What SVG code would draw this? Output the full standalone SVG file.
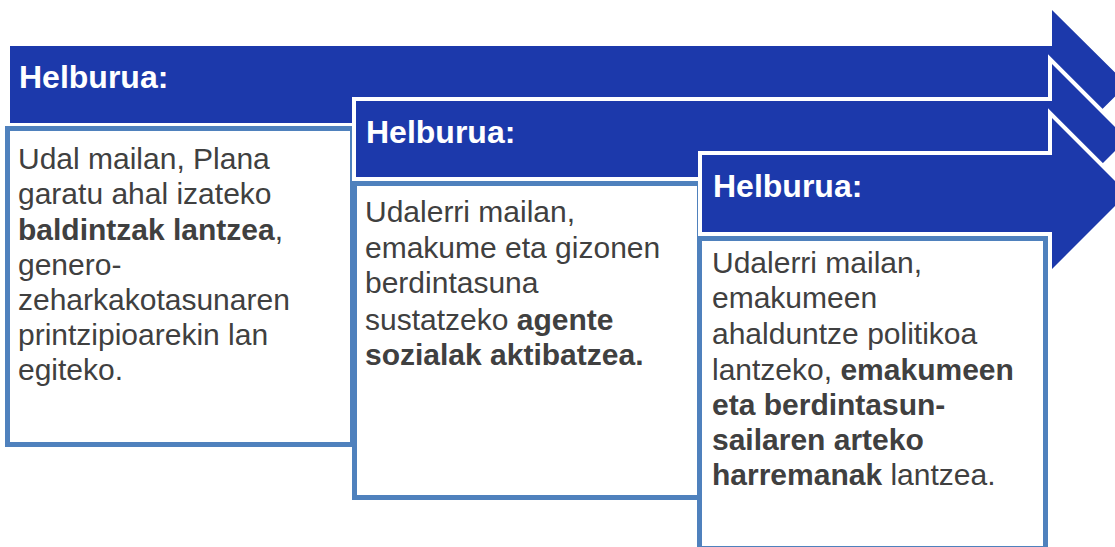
<svg xmlns="http://www.w3.org/2000/svg" width="1115" height="547" viewBox="0 0 1115 547">
<style>
.arrow{fill:#1c39ab;stroke:#ffffff;stroke-width:8;paint-order:stroke;stroke-linejoin:miter}
.box{fill:#ffffff;stroke:#4f81bd;stroke-width:5}
.head{font-family:"Liberation Sans",Arial,sans-serif;font-weight:bold;font-size:32px;fill:#ffffff}
.body{font-family:"Liberation Sans",Arial,sans-serif;font-size:30px;fill:#404040}
.b{font-weight:bold}
</style>
<rect width="1115" height="547" fill="#ffffff"/>
<g id="step1">
<polygon class="arrow" points="10,46 1052,46 1052,10 1127,84.5 1052,159 1052,123 10,123"/>
<text class="head" x="19" y="88">Helburua:</text>
<rect class="box" x="7.5" y="128.5" width="345" height="316"/>
<text class="body" x="18">
<tspan x="18" y="169">Udal mailan, Plana</tspan>
<tspan x="18" y="204">garatu ahal izateko</tspan>
<tspan x="18" y="240"><tspan class="b">baldintzak lantzea</tspan>,</tspan>
<tspan x="18" y="275">genero-</tspan>
<tspan x="18" y="310">zeharkakotasunaren</tspan>
<tspan x="18" y="345">printzipioarekin lan</tspan>
<tspan x="18" y="380">egiteko.</tspan>
</text>
</g>
<g id="step2">
<polygon class="arrow" points="356,101 1052,101 1052,64 1127,139 1052,214 1052,177 356,177"/>
<text class="head" x="366" y="143">Helburua:</text>
<rect class="box" x="354.5" y="183.5" width="345" height="314"/>
<text class="body">
<tspan x="365" y="222">Udalerri mailan,</tspan>
<tspan x="365" y="258">emakume eta gizonen</tspan>
<tspan x="365" y="293">berdintasuna</tspan>
<tspan x="365" y="330">sustatzeko <tspan class="b">agente</tspan></tspan>
<tspan x="365" y="365" class="b">sozialak aktibatzea.</tspan>
</text>
</g>
<g id="step3">
<polygon class="arrow" points="702,155 1052,155 1052,118 1127.5,193.5 1052,269 1052,232 702,232"/>
<text class="head" x="713" y="197">Helburua:</text>
<rect class="box" x="699.5" y="238.5" width="346" height="310"/>
<text class="body">
<tspan x="712" y="273">Udalerri mailan,</tspan>
<tspan x="712" y="308">emakumeen</tspan>
<tspan x="712" y="344">ahalduntze politikoa</tspan>
<tspan x="712" y="380">lantzeko, <tspan class="b">emakumeen</tspan></tspan>
<tspan x="712" y="415" class="b">eta berdintasun-</tspan>
<tspan x="712" y="450" class="b">sailaren arteko</tspan>
<tspan x="712" y="485"><tspan class="b">harremanak</tspan> lantzea.</tspan>
</text>
</g>
<g id="connectors"/>
</svg>
